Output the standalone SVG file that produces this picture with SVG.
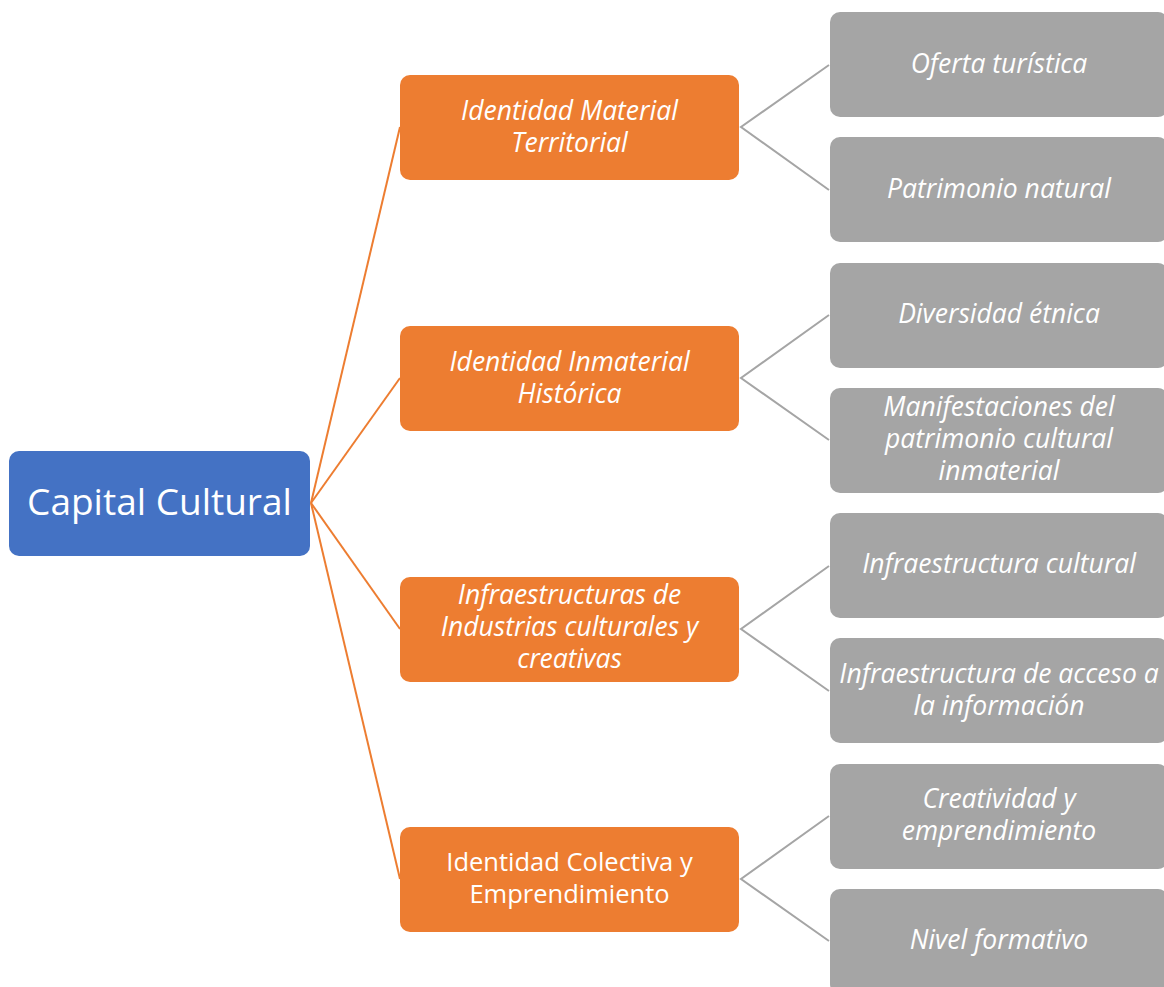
<svg xmlns="http://www.w3.org/2000/svg" width="1164" height="987" viewBox="0 0 1164 987">
<style>
.bg{fill:#ffffff}
.blue{fill:#4472C4}
.org{fill:#ED7D31}
.gry{fill:#A5A5A5}
.t{fill:#ffffff;font-family:"Open Sans","Noto Sans",sans-serif;text-anchor:middle;font-size:25.5px}
.i{font-style:italic;font-size:26.5px}
.big{font-size:37px}
.co{stroke:#ED7D31;stroke-width:2;fill:none}
.cg{stroke:#A5A5A5;stroke-width:2;fill:none}
</style>
<rect class="bg" x="0" y="0" width="1164" height="987"/>
<g id="connectors">
<line class="co" x1="311" y1="503" x2="400" y2="127"/>
<line class="co" x1="311" y1="503" x2="400" y2="378"/>
<line class="co" x1="311" y1="503" x2="400" y2="629"/>
<line class="co" x1="311" y1="503" x2="400" y2="879"/>
<polyline class="cg" points="829,65 741,127 829,190"/>
<polyline class="cg" points="829,315 741,378 829,440"/>
<polyline class="cg" points="829,566 741,629 829,691"/>
<polyline class="cg" points="829,816 741,879 829,941"/>
</g>
<g id="root">
<rect class="blue" x="9" y="451" width="301" height="105" rx="10"/>
<text class="t big" x="159.5" y="515">Capital Cultural</text>
</g>
<g id="n1">
<rect class="org" x="400" y="75" width="339" height="105" rx="10"/>
<text class="t i" x="569.5" y="120">Identidad Material</text>
<text class="t i" x="569.5" y="152">Territorial</text>
</g>
<g id="n2">
<rect class="org" x="400" y="326" width="339" height="105" rx="10"/>
<text class="t i" x="569.5" y="371">Identidad Inmaterial</text>
<text class="t i" x="569.5" y="403">Histórica</text>
</g>
<g id="n3">
<rect class="org" x="400" y="577" width="339" height="105" rx="10"/>
<text class="t i" x="569.5" y="604">Infraestructuras de</text>
<text class="t i" x="569.5" y="636">Industrias culturales y</text>
<text class="t i" x="569.5" y="668">creativas</text>
</g>
<g id="n4">
<rect class="org" x="400" y="827" width="339" height="105" rx="10"/>
<text class="t" x="569.5" y="871">Identidad Colectiva y</text>
<text class="t" x="569.5" y="903">Emprendimiento</text>
</g>
<g id="g1">
<rect class="gry" x="830" y="12" width="338" height="105" rx="10"/>
<text class="t i" x="999" y="73">Oferta turística</text>
</g>
<g id="g2">
<rect class="gry" x="830" y="137" width="338" height="105" rx="10"/>
<text class="t i" x="999" y="198">Patrimonio natural</text>
</g>
<g id="g3">
<rect class="gry" x="830" y="263" width="338" height="105" rx="10"/>
<text class="t i" x="999" y="323">Diversidad étnica</text>
</g>
<g id="g4">
<rect class="gry" x="830" y="388" width="338" height="105" rx="10"/>
<text class="t i" x="999" y="416">Manifestaciones del</text>
<text class="t i" x="999" y="448">patrimonio cultural</text>
<text class="t i" x="999" y="480">inmaterial</text>
</g>
<g id="g5">
<rect class="gry" x="830" y="513" width="338" height="105" rx="10"/>
<text class="t i" x="999" y="573">Infraestructura cultural</text>
</g>
<g id="g6">
<rect class="gry" x="830" y="638" width="338" height="105" rx="10"/>
<text class="t i" x="999" y="683">Infraestructura de acceso a</text>
<text class="t i" x="999" y="715">la información</text>
</g>
<g id="g7">
<rect class="gry" x="830" y="764" width="338" height="105" rx="10"/>
<text class="t i" x="999" y="808">Creatividad y</text>
<text class="t i" x="999" y="840">emprendimiento</text>
</g>
<g id="g8">
<rect class="gry" x="830" y="889" width="338" height="105" rx="10"/>
<text class="t i" x="999" y="949">Nivel formativo</text>
</g>
</svg>
